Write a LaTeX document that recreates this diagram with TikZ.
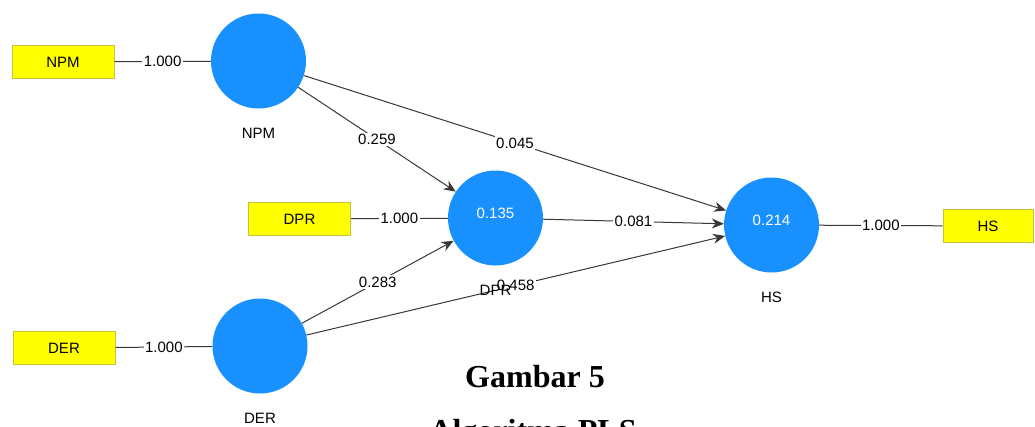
\documentclass[tikz,border=0pt]{standalone}
\usepackage{fontspec}
\setmainfont{Liberation Sans}
\newfontfamily\capfont{Liberation Serif}
\usetikzlibrary{arrows.meta,positioning}
\definecolor{plsblue}{RGB}{24,145,255}
\definecolor{plsyellow}{RGB}{255,255,0}
\definecolor{plsedge}{RGB}{196,196,60}
\definecolor{plsline}{RGB}{55,55,55}
\begin{document}
\begin{tikzpicture}[x=1pt,y=-1pt,
    latent/.style={circle,fill=plsblue,minimum size=95pt,inner sep=0pt},
    item/.style={rectangle,fill=plsyellow,draw=plsedge,line width=1pt,minimum width=102pt,minimum height=33pt,inner sep=0pt,font=\fontsize{15}{18}\selectfont},
    coef/.style={fill=white,inner sep=1.5pt,font=\fontsize{15}{18}\selectfont},
    rsq/.style={text=white,inner sep=0pt,font=\fontsize{15}{18}\selectfont},
    lname/.style={inner sep=0pt,font=\fontsize{15}{18}\selectfont},
    link/.style={draw=plsline,line width=1pt},
    ]
            \useasboundingbox (0,0) rectangle (1035,426);
            \clip (0,0) rectangle (1035,426);
            % Nodes
            \node[latent] (mNPM) at (258.5,61){};
            \node[latent] (mDPR) at (495.5,218){};
            \node[latent] (mDER) at (260,346){};
            \node[latent] (mHS) at (771.5,225){};
            \node[item] (iNPM) at (63,62){NPM};
            \node[item] (iDPR) at (299.5,219){DPR};
            \node[item] (iDER) at (64,348){DER};
            \node[item,minimum width=90pt] (iHS) at (988,226){HS};
            \node[rsq] (vDPR) at (495.5,213){0.135};
            \node[rsq] (vHS) at (771.5,220){0.214};
            % Edges
            \path[link] (iNPM) to node[coef]{1.000} (mNPM);
            \path[link] (iDPR) to node[coef]{1.000} (mDPR);
            \path[link] (iDER) to node[coef]{1.000} (mDER);
            \path[link] (mHS) to node[coef]{1.000} (iHS);
            \path[link,->,>={Stealth[length=12pt,width=10pt]}] (mNPM) to node[coef]{0.259} (mDPR);
            \path[link,->,>={Stealth[length=12pt,width=10pt]}] (mNPM) to node[coef]{0.045} (mHS);
            \path[link,->,>={Stealth[length=12pt,width=10pt]}] (mDPR) to node[coef]{0.081} (mHS);
            \path[link,->,>={Stealth[length=12pt,width=10pt]}] (mDER) to node[coef]{0.283} (mDPR);
            \path[link,->,>={Stealth[length=12pt,width=10pt]}] (mDER) to node[coef]{0.458} (mHS);
            % Names
            \node[lname,below=19pt of mNPM] (tNPM){NPM};
            \node[lname,below=19pt of mDPR] (tDPR){DPR};
            \node[lname,below=19pt of mDER] (tDER){DER};
            \node[lname,below=19pt of mHS] (tHS){HS};
            % Caption
            \node[anchor=base,font=\capfont\bfseries\fontsize{32}{38}\selectfont] (cap1) at (535,387){Gambar 5};
            \node[anchor=base,font=\capfont\bfseries\fontsize{32}{38}\selectfont] (cap2) at (533,441){Algoritma PLS};
        \end{tikzpicture}
\end{document}
